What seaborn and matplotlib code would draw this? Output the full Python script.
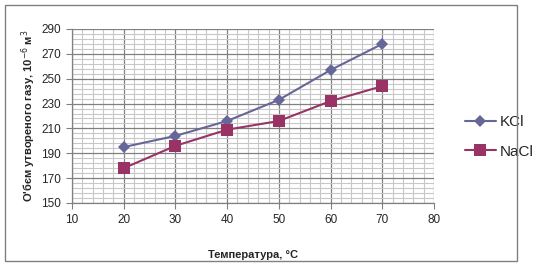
import numpy as np
import pandas as pd
import matplotlib
matplotlib.use("Agg")
import matplotlib.pyplot as plt
import seaborn as sns
from matplotlib.ticker import MultipleLocator, FixedLocator

temps = [20, 30, 40, 50, 60, 70]
kcl = [195, 204, 216, 233, 257, 278]
nacl = [178, 196, 209, 216, 232, 244]
series_names = ["KCl", "NaCl"]
x_label = "Температура, °C"
y_label = "О'бєм утвореного газу, 10$^{-6}$ м$^{3}$"

df = pd.DataFrame({
    "T": temps * 2,
    "V": kcl + nacl,
    "Series": [series_names[0]] * len(temps) + [series_names[1]] * len(temps),
})

sns.set_style("white")
plt.rcParams["font.family"] = ["Liberation Sans", "DejaVu Sans"]

fig = plt.figure(figsize=(5.48, 2.67), dpi=100)
ax = fig.add_axes([72 / 548, 1 - 203 / 267, (434 - 72) / 548, (203 - 29) / 267])

palette = {"KCl": "#666699", "NaCl": "#993366"}
sns.lineplot(data=df, x="T", y="V", hue="Series", style="Series",
             markers={"KCl": "D", "NaCl": "s"}, dashes=False,
             palette=palette, ax=ax, linewidth=1.5, markeredgewidth=0)
for line in ax.get_lines():
    if line.get_marker() == "D":
        line.set_markersize(6)
    elif line.get_marker() == "s":
        line.set_markersize(8)

ax.set_xlim(10, 80)
ax.set_ylim(150, 290)
ax.xaxis.set_major_locator(MultipleLocator(10))
ax.xaxis.set_minor_locator(MultipleLocator(2))
ax.yaxis.set_major_locator(FixedLocator(np.arange(150, 291, 20)))
ax.yaxis.set_minor_locator(FixedLocator(np.arange(150, 291, 4)))
ax.grid(which="minor", color="#c8c8c8", linewidth=0.8)
ax.grid(which="major", color="#808080", linewidth=0.9)
ax.set_axisbelow(True)
for s in ["top", "right"]:
    ax.spines[s].set_visible(False)
for s in ["left", "bottom"]:
    ax.spines[s].set_color("#808080")
    ax.spines[s].set_linewidth(0.9)
ax.tick_params(which="major", direction="out", length=4, color="#808080",
               labelsize=8.5, left=True, bottom=True, pad=4)
ax.tick_params(which="minor", length=0)

ax.set_xlabel(x_label, fontsize=8, fontweight="bold", labelpad=17)
ax.set_ylabel(y_label, fontsize=8, fontweight="bold", labelpad=2)

handles, labels = ax.get_legend_handles_labels()
ax.legend(handles, labels, loc="center left", bbox_to_anchor=(465 / 548, 1 - 137 / 267),
          bbox_transform=fig.transFigure, frameon=False, fontsize=11,
          handlelength=2.0, labelspacing=1.0, handletextpad=0.3, borderpad=0, borderaxespad=0)

fig.patches.append(plt.Rectangle((5 / 548, 1 - 261 / 267), 512 / 548, 256 / 267,
                                 transform=fig.transFigure, fill=False,
                                 edgecolor="#808080", linewidth=1))

fig.savefig("out.png", dpi=100)
